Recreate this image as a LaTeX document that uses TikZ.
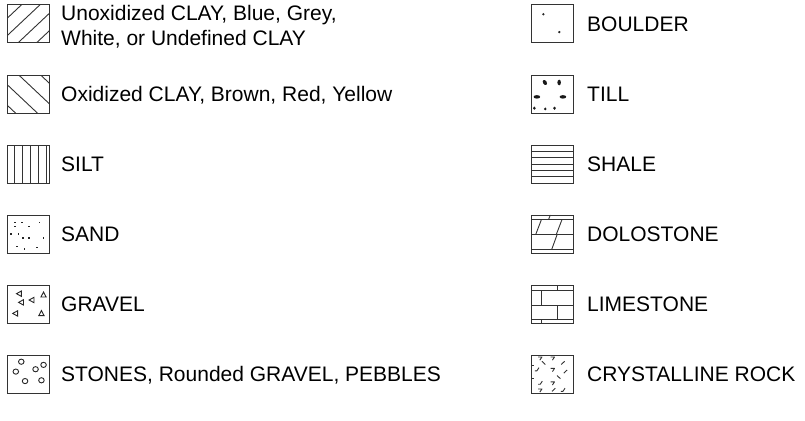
\documentclass[tikz,border=0pt]{standalone}
\usepackage{fontspec}
\setmainfont{Liberation Sans}
\begin{document}
\begin{tikzpicture}[x=1pt,y=-1pt,
  swatch/.style={draw=black!80, line width=1pt, minimum width=42pt, minimum height=38pt, anchor=north west, inner sep=0pt, outer sep=0pt},
  lbl/.style={anchor=base west, inner sep=0pt, font=\fontsize{21}{25}\selectfont, text=black},
  lbltwo/.style={anchor=west, inner sep=0pt, font=\fontsize{21}{25}\selectfont, text=black, align=left},
  pat/.style={xscale=0.84, yscale=0.79},
  hatch/.style={line width=0.9pt, draw=black!80},
  dotf/.style={fill=black!85, draw=none},
  tri/.style={line width=0.9pt, draw=black!85},
  ring/.style={line width=0.9pt, draw=black!85},
  blob/.style={fill=black!90, draw=none},
  xmark/.style={line width=0.9pt, draw=black!80, line join=round},
]
\useasboundingbox (0,0) rectangle (805,420);

% ---------- left column swatches ----------
\node[swatch] (s1) at (7,5) {};
\node[swatch] (s2) at (7,75) {};
\node[swatch] (s3) at (7,145) {};
\node[swatch] (s4) at (7,215) {};
\node[swatch] (s5) at (7,285) {};
\node[swatch] (s6) at (7,355) {};
% ---------- right column swatches ----------
\node[swatch] (r1) at (531,5) {};
\node[swatch] (r2) at (531,75) {};
\node[swatch] (r3) at (531,145) {};
\node[swatch] (r4) at (531,215) {};
\node[swatch] (r5) at (531,285) {};
\node[swatch] (r6) at (531,355) {};

% ---------- labels ----------
\node[lbltwo] (t1) at (61,27) {Unoxidized CLAY, Blue, Grey,\\White, or Undefined CLAY};
\node[lbl] (t2) at (61,101.5) {Oxidized CLAY, Brown, Red, Yellow};
\node[lbl] (t3) at (61,171.5) {SILT};
\node[lbl] (t4) at (61,241.5) {SAND};
\node[lbl] (t5) at (61,311.5) {GRAVEL};
\node[lbl] (t6) at (61,381.5) {STONES, Rounded GRAVEL, PEBBLES};
\node[lbl] (u1) at (587,31.5) {BOULDER};
\node[lbl] (u2) at (587,101.5) {TILL};
\node[lbl] (u3) at (587,171.5) {SHALE};
\node[lbl] (u4) at (587,241.5) {DOLOSTONE};
\node[lbl] (u5) at (587,311.5) {LIMESTONE};
\node[lbl] (u6) at (587,381.5) {CRYSTALLINE ROCK};

% ---------- patterns (drawn in a 50 x 48 frame scaled to the swatch) ----------
% Unoxidized clay: / hatching
\begin{scope}[shift={(s1.north west)}, pat]
  \clip (0,0) rectangle (50,48);
  \foreach \c in {17,39,61,83} \draw[hatch] (\c+5,-5) -- (\c-55,55);
\end{scope}
% Oxidized clay: \ hatching
\begin{scope}[shift={(s2.north west)}, pat]
  \clip (0,0) rectangle (50,48);
  \foreach \d in {-38,-12,14,40} \draw[hatch] (\d-5,-5) -- (\d+55,55);
\end{scope}
% Silt: vertical lines
\begin{scope}[shift={(s3.north west)}, pat]
  \foreach \x in {9.3,18.6,27.9,37.2,46.5} \draw[hatch] (\x,0) -- (\x,48);
\end{scope}
% Sand: dots
\begin{scope}[shift={(s4.north west)}, pat]
  \foreach \p in {(9.7,9.3),(18,9.3),(38.7,9.3),(9.7,14.3),(26.3,14.3),(4.7,24.3),(13.7,24.3),(19,29.3),(26.3,29.3),(43.7,29.3),(12,40),(21,43),(36,41)}
    \fill[dotf] \p ++(-0.9,-0.9) rectangle ++(1.8,1.8);
\end{scope}
% Gravel: triangles
\begin{scope}[shift={(s5.north west)}, pat]
  \foreach \cx/\cy in {14.5/11,17/22,29.5/19,10/36}
    \draw[tri] (\cx-3.2,\cy) -- (\cx+2.6,\cy-3.4) -- (\cx+2.6,\cy+3.4) -- cycle;
  \foreach \cx/\cy in {43.5/12.5,41/36}
    \draw[tri] (\cx,\cy-3.6) -- (\cx+3.1,\cy+2.7) -- (\cx-3.1,\cy+2.7) -- cycle;
\end{scope}
% Stones: circles
\begin{scope}[shift={(s6.north west)}, pat]
  \foreach \p in {(17,8.5),(43.5,12.5),(34,18),(10.5,21),(21.5,33),(41,32)}
    \draw[ring] \p circle (3.3);
\end{scope}
% Boulder: two dots
\begin{scope}[shift={(r1.north west)}, pat]
  \fill[dotf] (14.7,11.7) circle (1.6);
  \fill[dotf] (33.7,34.3) circle (1.6);
\end{scope}
% Till: blobs
\begin{scope}[shift={(r2.north west)}, pat]
  \clip (0,0) rectangle (50,48);
  \fill[blob, rotate around={30:(16.5,9.5)}] (16.5,9.5) ellipse (2.2 and 3.4);
  \fill[blob] (33.5,9.5) ellipse (2.1 and 3.6);
  \fill[blob] (7,27.7) ellipse (4 and 2.2);
  \fill[blob] (38,27.7) ellipse (4 and 2.2);
  \fill[blob] (4,42) ellipse (1.7 and 2.1);
  \fill[blob] (17,43) ellipse (1.6 and 1.9);
  \fill[blob] (28,42) ellipse (1.7 and 2.1);
\end{scope}
% Shale: horizontal lines
\begin{scope}[shift={(r3.north west)}, pat]
  \foreach \y in {8,16,24,32,40} \draw[hatch] (0,\y) -- (50,\y);
\end{scope}
% Dolostone
\begin{scope}[shift={(r4.north west)}, pat]
  \foreach \y in {5.5,25,44} \draw[hatch] (0,\y) -- (50,\y);
  \draw[hatch] (21,5.5) -- (23,0);
  \draw[hatch] (5.5,25) -- (12.5,5.5);
  \draw[hatch] (30,25) -- (37,5.5);
  \draw[hatch] (24.5,44) -- (31,25);
\end{scope}
% Limestone
\begin{scope}[shift={(r5.north west)}, pat]
  \foreach \y in {7,25.5,44} \draw[hatch] (0,\y) -- (50,\y);
  \draw[hatch] (31,0) -- (31,7);
  \draw[hatch] (13,7) -- (13,25.5);
  \draw[hatch] (31,25.5) -- (31,44);
  \draw[hatch] (13,44) -- (13,48);
\end{scope}
% Crystalline rock
\begin{scope}[shift={(r6.north west)}, pat]
  \foreach \x/\y in {11/2.5,26/2.5,26/17,26/34,11/43}
    \draw[xmark] (\x-2.5,\y) -- (\x+2,\y) -- (\x-0.5,\y+4);
  \foreach \x/\y in {7/17,11/34,38/43}
    \draw[xmark] (\x-2.5,\y+3) -- (\x,\y+3) -- (\x+2.5,\y-1);
  \foreach \x/\y in {15/10,33/28}
    \draw[xmark] (\x-2,\y-2) -- (\x+2,\y+2);
  \foreach \x/\y in {38/10,41/21,27/44}
    \draw[xmark] (\x-2,\y+2) -- (\x+2,\y-2);
  \foreach \x/\y in {1.5/13,1.5/30}
    \draw[xmark] (\x-1.5,\y) -- (\x+2,\y);
\end{scope}
\end{tikzpicture}
\end{document}
